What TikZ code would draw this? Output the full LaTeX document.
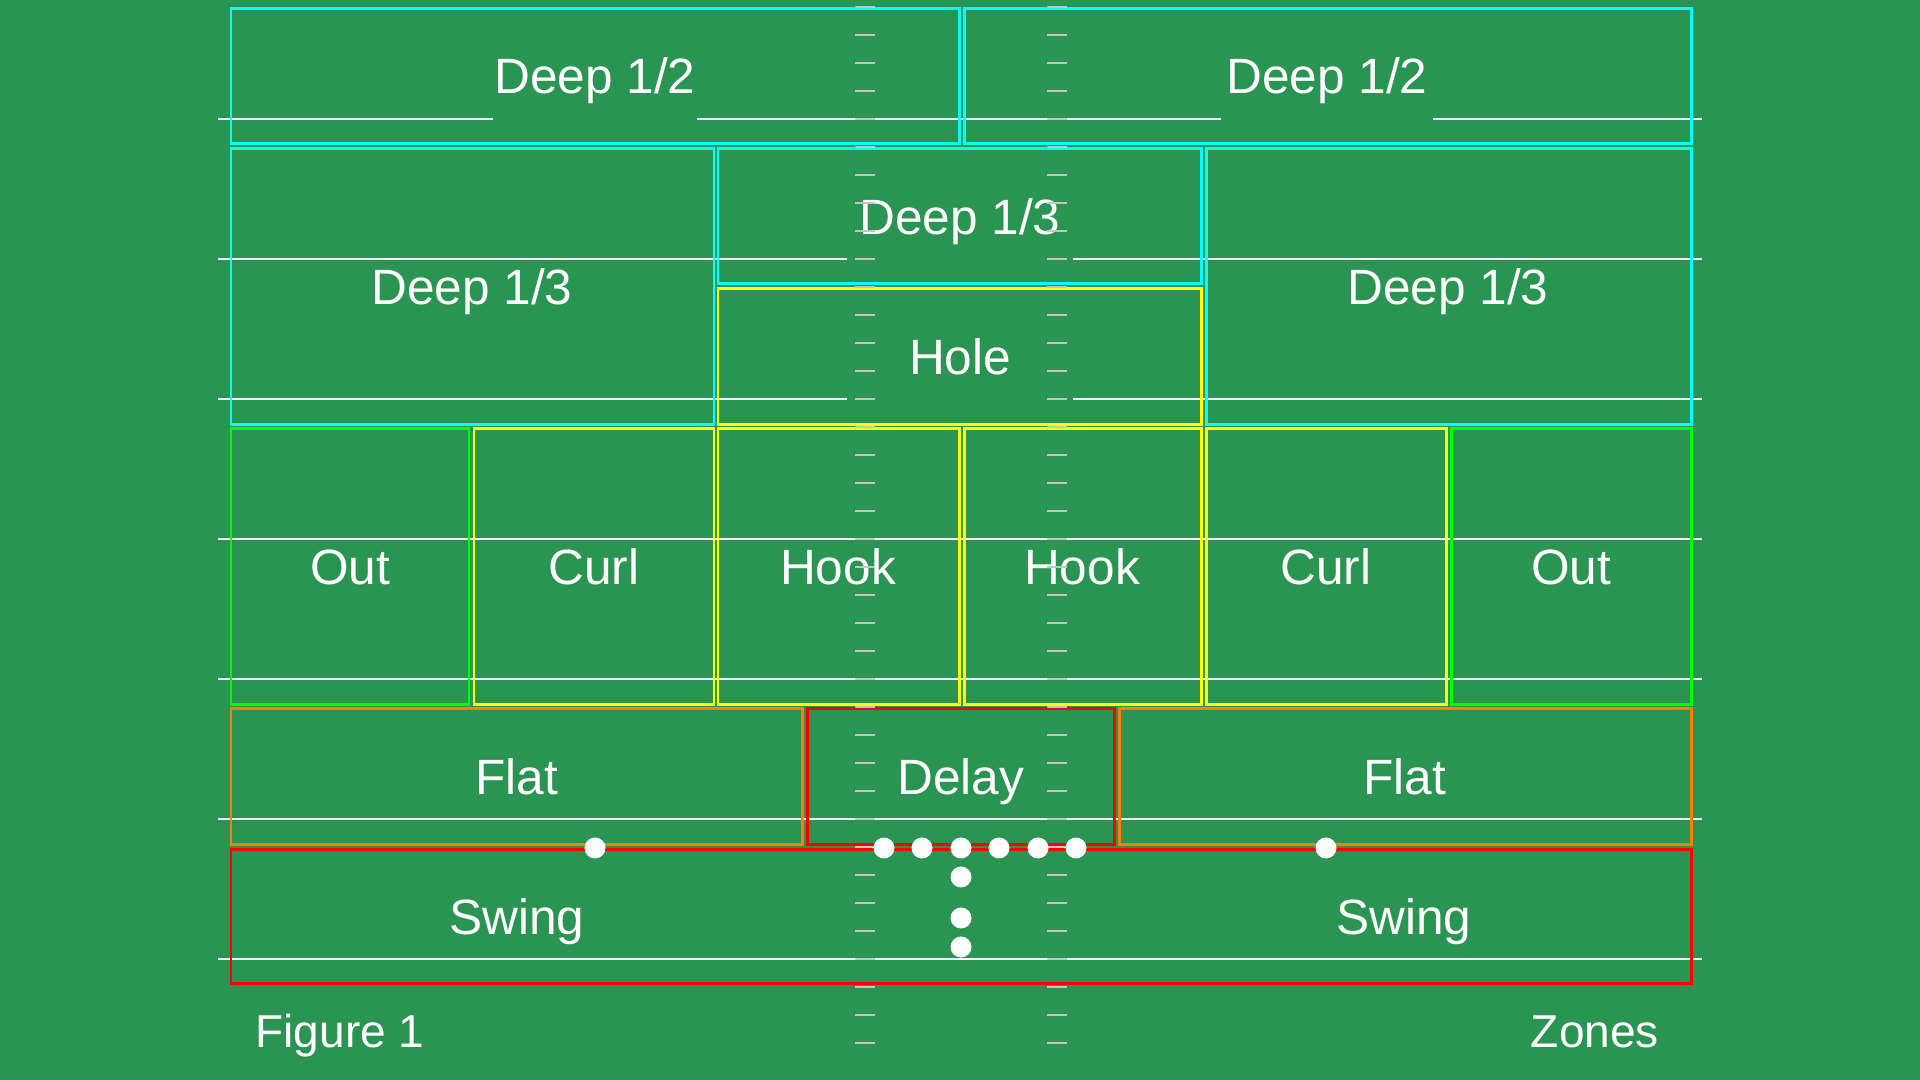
\documentclass[tikz,border=0pt]{standalone}
\usepackage{fontspec}
\setmainfont{Liberation Sans}
\usepackage{tikz}
\definecolor{field}{RGB}{42,149,83}
\definecolor{hashc}{RGB}{196,196,196}
\definecolor{zcyan}{RGB}{0,255,255}
\definecolor{zyellow}{RGB}{255,255,0}
\definecolor{zgreen}{RGB}{0,255,0}
\definecolor{zorange}{RGB}{255,128,0}
\definecolor{zred}{RGB}{255,0,0}
\tikzstyle{yardline} = [draw=white, line width=0.6pt]
\tikzstyle{hash} = [draw=hashc, line width=0.6pt]
\tikzstyle{deep} = [draw=zcyan, line width=0.85pt]
\tikzstyle{under} = [draw=zyellow, line width=0.85pt]
\tikzstyle{outside} = [draw=zgreen, line width=0.85pt]
\tikzstyle{flat} = [draw=zorange, line width=0.85pt]
\tikzstyle{back} = [draw=zred, line width=0.85pt]
\tikzstyle{zone} = [text=white, inner sep=0pt, text height=0.354cm, text depth=0pt, font=\fontsize{14.1}{17}\selectfont]
\tikzstyle{cut} = [fill=field, minimum height=0.92cm]
\tikzstyle{caption} = [text=white, inner sep=0pt, text height=0.33cm, text depth=0pt, font=\fontsize{13.1}{16}\selectfont]
\tikzstyle{player} = [circle, fill=white, inner sep=0pt, minimum size=0.21cm]

\begin{document}
\begin{tikzpicture}[x=0.01cm, y=-0.01cm]
\fill[field] (0,0) rectangle (1920,1080);
\useasboundingbox (0,0) rectangle (1920,1080);
\foreach \y in {119,259,...,959}
  \draw[yardline] (218,\y) -- (1702,\y);

\node (dhl) [zone, cut, minimum width=2.03cm] at (595,76) {Deep 1/2};
\node (dhr) [zone, cut, minimum width=2.12cm] at (1327,76) {Deep 1/2};
\node (dtl) [zone] at (472,287) {Deep 1/3};
\node (dtc) [zone, cut, minimum width=2.26cm] at (960,217) {Deep 1/3};
\node (dtr) [zone] at (1448,287) {Deep 1/3};
\node (hole) [zone, cut, minimum width=2.26cm] at (960,357) {Hole};
\node (outl) [zone] at (350,567) {Out};
\node (curll) [zone] at (594,567) {Curl};
\node (hookl) [zone] at (838,567) {Hook};
\node (hookr) [zone] at (1082,567) {Hook};
\node (curlr) [zone] at (1326,567) {Curl};
\node (outr) [zone] at (1571,567) {Out};
\node (flatl) [zone] at (517,777) {Flat};
\node (delay) [zone] at (961,777) {Delay};
\node (flatr) [zone] at (1405,777) {Flat};
\node (swingl) [zone] at (517,917) {Swing};
\node (swingr) [zone] at (1404,917) {Swing};
\node (fig) [caption] at (340,1031) {Figure 1};
\node (zones) [caption] at (1595,1031) {Zones};

\draw[deep] (231,9) rectangle (959,144);
\draw[deep] (964,9) rectangle (1691,144);
\draw[deep] (231,149) rectangle (714,425);
\draw[deep] (718,149) rectangle (1201,284);
\draw[deep] (1206,149) rectangle (1691,425);
\draw[under] (718,289) rectangle (1201,425);
\draw[under] (474,429) rectangle (714,705);
\draw[under] (718,429) rectangle (959,705);
\draw[under] (964,429) rectangle (1201,705);
\draw[under] (1206,429) rectangle (1446,705);
\draw[outside] (231,429) rectangle (469,705);
\draw[outside] (1451,429) rectangle (1691,705);
\draw[flat] (231,709) rectangle (802,845);
\draw[flat] (1119,709) rectangle (1691,845);
\draw[back] (807,709) rectangle (1114,845);
\draw[back] (231,850) rectangle (1691,984);

\foreach \k in {-4,...,33} {
  \draw[hash] (855,{119+28*\k}) -- (875,{119+28*\k});
  \draw[hash] (1047,{119+28*\k}) -- (1067,{119+28*\k});
}

\foreach \x [count=\i] in {595,884,922,961,999,1038,1076,1326}
  \node (line\i) [player] at (\x,848) {};
\foreach \y [count=\i] in {877,918,947}
  \node (back\i) [player] at (961,\y) {};
\end{tikzpicture}
\end{document}
